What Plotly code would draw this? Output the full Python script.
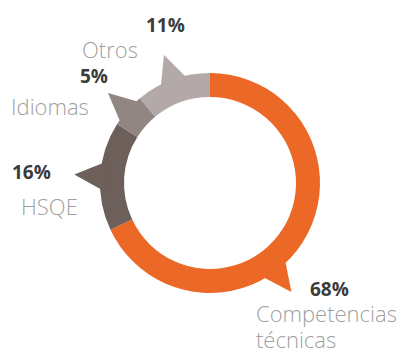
import plotly.graph_objects as go

# Training hours by area (share of total, %)
categories = ["Competencias técnicas", "HSQE", "Idiomas", "Otros"]
shares = [68, 16, 5, 11]
label_lines = [["Competencias", "técnicas"], ["HSQE"], ["Idiomas"], ["Otros"]]

colors = ["#EC6827", "#6D5F5A", "#928683", "#B3A9A8"]

W, H = 403, 353
CX, CY = 210, 183          # ring centre in px (from top-left)
R_MAX = 140                # radial axis range == px radius of polar area
R_IN, R_OUT = 86, 110      # ring radii
R_TIP = 136                # apex of each pointer
TIP_HALF = 8               # half angular width of pointer base (deg)
TIP_POS = [0.585, 0.5, 0.5, 0.5]  # pointer position along each slice

fig = go.Figure()

# ring slices + pointers
start = 0.0
for name, v, c, tp in zip(categories, shares, colors, TIP_POS):
    width = v / sum(shares) * 360
    mid = start + width / 2
    fig.add_trace(go.Barpolar(
        r=[R_OUT - R_IN], theta=[mid], width=[width], base=[R_IN],
        marker=dict(color=c, line=dict(width=0)), name=name,
        hoverinfo="skip", showlegend=False,
    ))
    a = start + width * tp
    fig.add_trace(go.Scatterpolar(
        r=[R_OUT - 4, R_TIP, R_OUT - 4, R_OUT - 4],
        theta=[a - TIP_HALF, a, a + TIP_HALF, a - TIP_HALF],
        mode="lines", fill="toself", fillcolor=c,
        line=dict(width=0, color=c), hoverinfo="skip", showlegend=False,
    ))
    start += width

fig.update_layout(
    width=W, height=H,
    margin=dict(l=0, r=0, t=0, b=0),
    paper_bgcolor="white", plot_bgcolor="white",
    barmode="overlay",
    polar=dict(
        domain=dict(x=[(CX - R_MAX) / W, (CX + R_MAX) / W],
                    y=[(H - CY - R_MAX) / H, (H - CY + R_MAX) / H]),
        bgcolor="rgba(0,0,0,0)",
        radialaxis=dict(range=[0, R_MAX], visible=False),
        angularaxis=dict(rotation=90, direction="clockwise", visible=False),
        bargap=0,
    ),
    xaxis=dict(range=[0, W], visible=False, fixedrange=True),
    yaxis=dict(range=[H, 0], visible=False, fixedrange=True),
)

# label placement (px): percentage centre, name anchor (first line centre)
pct_pos = [(329, 289), (31, 172), (94, 76), (165, 25)]
name_pos = [(255, 313, "left"), (49, 206, "center"), (50, 106, "center"), (110, 49, "center")]
LINE_STEP = 26

LABEL_FONT = dict(family="Open Sans, sans-serif", size=22, color="#a0a0a0", weight=300)
PCT_FONT = dict(family="Open Sans, sans-serif", size=19, color="#3b3b3b", weight="bold")

for v, lines, (px, py), (nx, ny, anc) in zip(shares, label_lines, pct_pos, name_pos):
    fig.add_annotation(x=px, y=py, xref="x", yref="y", text=f"{v}%",
                       showarrow=False, xanchor="center", yanchor="middle",
                       borderpad=0, font=PCT_FONT)
    for i, line in enumerate(lines):
        fig.add_annotation(x=nx, y=ny + i * LINE_STEP, xref="x", yref="y", text=line,
                           showarrow=False, xanchor=anc, yanchor="middle",
                           borderpad=0, font=LABEL_FONT)

fig.write_html("out.html")
